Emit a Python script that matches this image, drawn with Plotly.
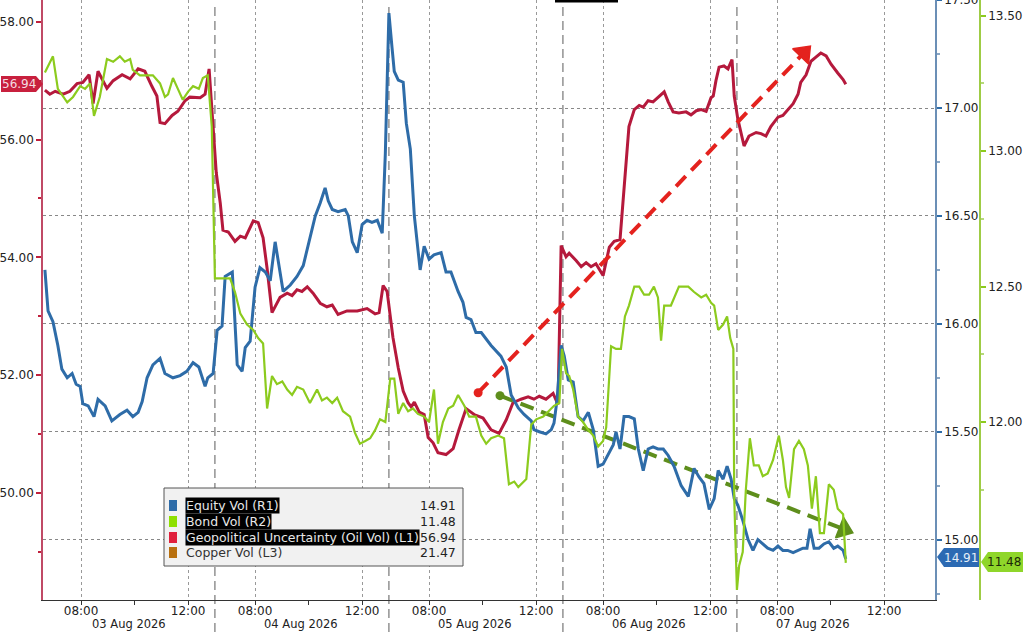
import plotly.graph_objects as go
from datetime import datetime, date

# ---------------- DATA ----------------
SERIES_NAMES = ["Equity Vol (R1)", "Bond Vol (R2)", "Geopolitical Uncertainty (Oil Vol) (L1)", "Copper Vol (L3)"]
LAST_VALUES = ["14.91", "11.48", "56.94", "21.47"]
DAY_LABELS = ["03 Aug 2026", "04 Aug 2026", "05 Aug 2026", "06 Aug 2026", "07 Aug 2026"]
FIRST_DAY = date(2026, 8, 3)
SESSION_OPEN = 6.5   # 06:30
SESSION_LEN = 6.5    # 06:30 - 13:00

geo_t = ["08-03 06:39","08-03 06:50","08-03 07:02","08-03 07:20","08-03 07:35","08-03 07:51","08-03 08:04","08-03 08:18",
         "08-03 08:27","08-03 08:38","08-03 08:58","08-03 09:12","08-03 09:32","08-03 09:50","08-03 10:08","08-03 10:23",
         "08-03 10:39","08-03 10:50","08-03 10:57","08-03 11:08","08-03 11:24","08-03 11:37","08-03 11:53","08-03 12:04",
         "08-03 12:27","08-03 12:38","08-03 12:47","08-03 12:56",
         "08-04 06:33","08-04 06:42","08-04 06:48","08-04 07:00","08-04 07:15","08-04 07:27","08-04 07:38","08-04 07:56",
         "08-04 08:07","08-04 08:18","08-04 08:27","08-04 08:38","08-04 08:56","08-04 09:12","08-04 09:23","08-04 09:34",
         "08-04 09:45","08-04 09:57","08-04 10:10","08-04 10:26","08-04 10:41","08-04 10:53","08-04 11:06","08-04 11:26",
         "08-04 11:49","08-04 12:11","08-04 12:29","08-04 12:38","08-04 12:47","08-04 12:56",
         "08-05 06:39","08-05 06:51","08-05 07:02","08-05 07:13","08-05 07:20","08-05 07:27","08-05 07:38","08-05 07:49",
         "08-05 07:58","08-05 08:09","08-05 08:20","08-05 08:38","08-05 08:54","08-05 09:07","08-05 09:23","08-05 09:41",
         "08-05 10:01","08-05 10:19","08-05 10:37","08-05 10:53","08-05 11:08","08-05 11:26","08-05 11:42","08-05 11:55",
         "08-05 12:07","08-05 12:22","08-05 12:38","08-05 12:49","08-05 12:56",
         "08-06 06:37","08-06 06:44","08-06 07:00","08-06 07:11","08-06 07:22","08-06 07:33","08-06 07:44","08-06 08:00",
         "08-06 08:14","08-06 08:25","08-06 08:38","08-06 08:47","08-06 08:58","08-06 09:10","08-06 09:21","08-06 09:30",
         "08-06 09:41","08-06 09:52","08-06 10:03","08-06 10:17","08-06 10:26","08-06 10:37","08-06 10:50","08-06 11:06",
         "08-06 11:17","08-06 11:29","08-06 11:40","08-06 11:51","08-06 12:02","08-06 12:07","08-06 12:13","08-06 12:20",
         "08-06 12:31","08-06 12:40","08-06 12:49","08-06 12:54",
         "08-07 06:32","08-07 06:46","08-07 06:57","08-07 07:13","08-07 07:24","08-07 07:35","08-07 07:46","08-07 08:02",
         "08-07 08:13","08-07 08:24","08-07 08:36","08-07 08:47","08-07 08:53","08-07 09:05","08-07 09:16","08-07 09:27",
         "08-07 09:38","08-07 09:50","08-07 10:01","08-07 10:16","08-07 10:28","08-07 10:34"]
geo_v = [56.84,56.77,56.82,56.77,56.82,56.95,56.97,57.10,56.61,57.16,56.87,57.00,57.10,57.03,57.20,57.16,
         56.90,56.74,56.29,56.27,56.41,56.48,56.66,56.72,56.71,56.77,57.20,56.29,
         55.44,54.92,54.46,54.43,54.27,54.36,54.33,54.62,54.59,54.33,53.81,53.06,53.32,53.39,53.35,53.45,
         53.42,53.50,53.39,53.22,53.16,53.19,53.03,53.09,53.09,53.13,53.04,53.06,53.52,53.42,
         52.64,52.12,51.73,51.53,51.46,51.54,51.37,51.33,50.94,50.85,50.68,50.65,50.75,51.07,51.43,51.33,
         51.27,51.07,51.01,51.24,51.53,51.59,51.63,51.59,51.64,51.59,51.69,51.50,54.20,
         54.01,54.07,53.94,53.84,53.91,53.84,53.89,53.69,54.17,54.27,54.30,55.24,56.22,56.51,56.58,56.55,
         56.66,56.64,56.71,56.81,56.64,56.47,56.45,56.47,56.42,56.49,56.51,56.48,56.71,56.74,57.00,57.23,
         57.25,57.20,57.36,56.74,
         56.35,55.89,56.06,56.12,56.10,56.06,56.22,56.38,56.41,56.51,56.61,56.77,56.97,57.10,57.33,57.40,
         57.47,57.42,57.28,57.13,57.02,56.94]

eq_t = ["08-03 06:39","08-03 06:46","08-03 06:57","08-03 07:08","08-03 07:17","08-03 07:29","08-03 07:40","08-03 07:49",
        "08-03 07:58","08-03 08:04","08-03 08:16","08-03 08:29","08-03 08:38","08-03 08:54","08-03 09:09","08-03 09:27",
        "08-03 09:43","08-03 09:56","08-03 10:08","08-03 10:17","08-03 10:28","08-03 10:41","08-03 10:57","08-03 11:08",
        "08-03 11:26","08-03 11:42","08-03 11:57","08-03 12:11","08-03 12:24","08-03 12:38","08-03 12:44","08-03 12:56",
        "08-04 06:35","08-04 06:46","08-04 06:53","08-04 07:09","08-04 07:20","08-04 07:31","08-04 07:38","08-04 07:49",
        "08-04 08:00","08-04 08:11","08-04 08:23","08-04 08:34","08-04 08:45","08-04 09:03","08-04 09:19","08-04 09:34",
        "08-04 09:48","08-04 09:59","08-04 10:15","08-04 10:26","08-04 10:37","08-04 10:44","08-04 10:53","08-04 11:06",
        "08-04 11:22","08-04 11:29","08-04 11:38","08-04 11:49","08-04 12:00","08-04 12:11","08-04 12:22","08-04 12:34",
        "08-04 12:45","08-04 12:52",
        "08-05 06:30","08-05 06:37","08-05 06:42","08-05 06:51","08-05 07:02","08-05 07:09","08-05 07:18","08-05 07:27",
        "08-05 07:35","08-05 07:40","08-05 07:49","08-05 08:00","08-05 08:11","08-05 08:27","08-05 08:38","08-05 08:49",
        "08-05 09:05","08-05 09:16","08-05 09:23","08-05 09:34","08-05 09:45","08-05 09:57","08-05 10:19","08-05 10:41",
        "08-05 10:53","08-05 11:04","08-05 11:20","08-05 11:33","08-05 11:49","08-05 11:55","08-05 12:07","08-05 12:22",
        "08-05 12:34","08-05 12:40","08-05 12:47","08-05 12:56",
        "08-06 06:33","08-06 06:42","08-06 06:53","08-06 07:04","08-06 07:15","08-06 07:27","08-06 07:38","08-06 07:49",
        "08-06 08:00","08-06 08:11","08-06 08:23","08-06 08:29","08-06 08:38","08-06 08:47","08-06 08:58","08-06 09:10",
        "08-06 09:19","08-06 09:30","08-06 09:41","08-06 09:52","08-06 10:03","08-06 10:15","08-06 10:26","08-06 10:39",
        "08-06 10:55","08-06 11:11","08-06 11:24","08-06 11:35","08-06 11:46","08-06 11:58","08-06 12:09","08-06 12:18",
        "08-06 12:29","08-06 12:38","08-06 12:47","08-06 12:54",
        "08-07 06:32","08-07 06:43","08-07 06:55","08-07 07:06","08-07 07:17","08-07 07:28","08-07 07:39","08-07 07:51",
        "08-07 08:02","08-07 08:13","08-07 08:24","08-07 08:36","08-07 08:47","08-07 08:58","08-07 09:07","08-07 09:14",
        "08-07 09:23","08-07 09:34","08-07 09:45","08-07 09:56","08-07 10:07","08-07 10:16","08-07 10:28","08-07 10:34"]
eq_v = [16.25,16.06,16.01,15.90,15.79,15.75,15.77,15.72,15.71,15.63,15.62,15.57,15.65,15.62,15.55,15.58,
        15.60,15.57,15.59,15.64,15.75,15.81,15.84,15.77,15.75,15.76,15.78,15.82,15.80,15.71,15.75,15.77,
        15.97,15.99,16.22,16.24,15.81,15.78,15.89,15.92,16.17,16.26,16.24,16.20,16.38,16.15,16.18,16.22,
        16.27,16.36,16.50,16.56,16.63,16.57,16.53,16.52,16.53,16.50,16.38,16.33,16.46,16.48,16.47,16.48,
        16.42,16.79,
        17.44,17.28,17.17,17.13,17.12,16.93,16.81,16.50,16.36,16.25,16.36,16.30,16.32,16.33,16.24,16.24,
        16.15,16.10,16.03,16.02,15.96,15.96,15.90,15.85,15.80,15.67,15.61,15.58,15.55,15.51,15.50,15.49,
        15.51,15.54,15.65,15.90,
        15.85,15.74,15.73,15.57,15.55,15.59,15.51,15.34,15.35,15.39,15.44,15.50,15.42,15.57,15.57,15.56,
        15.42,15.32,15.42,15.43,15.42,15.42,15.39,15.34,15.25,15.20,15.33,15.29,15.26,15.14,15.19,15.32,
        15.28,15.34,15.28,15.19,
        15.16,15.09,15.00,14.95,15.00,14.98,14.96,14.95,14.97,14.95,14.95,14.94,14.95,14.96,14.96,15.05,
        14.96,14.96,14.98,14.99,14.96,14.97,14.95,14.91]

bond_t = ["08-03 06:39","08-03 06:57","08-03 07:08","08-03 07:29","08-03 07:42","08-03 07:58","08-03 08:09","08-03 08:20",
          "08-03 08:29","08-03 08:42","08-03 08:58","08-03 09:12","08-03 09:27","08-03 09:38","08-03 09:50","08-03 09:56",
          "08-03 10:12","08-03 10:28","08-03 10:41","08-03 10:57","08-03 11:08","08-03 11:15","08-03 11:26","08-03 11:37",
          "08-03 11:48","08-03 12:00","08-03 12:11","08-03 12:24","08-03 12:33","08-03 12:44","08-03 12:53",
          "08-04 06:30","08-04 06:46","08-04 07:04","08-04 07:15","08-04 07:27","08-04 07:42","08-04 07:56","08-04 08:07",
          "08-04 08:18","08-04 08:27","08-04 08:38","08-04 08:49","08-04 09:01","08-04 09:12","08-04 09:23","08-04 09:34",
          "08-04 09:48","08-04 10:03","08-04 10:19","08-04 10:30","08-04 10:41","08-04 10:53","08-04 11:04","08-04 11:17",
          "08-04 11:33","08-04 11:44","08-04 11:55","08-04 12:07","08-04 12:18","08-04 12:29","08-04 12:40","08-04 12:52",
          "08-05 06:33","08-05 06:42","08-05 06:51","08-05 07:02","08-05 07:13","08-05 07:24","08-05 07:35","08-05 07:49",
          "08-05 08:00","08-05 08:11","08-05 08:20","08-05 08:31","08-05 08:43","08-05 08:54","08-05 09:05","08-05 09:19",
          "08-05 09:30","08-05 09:45","08-05 09:57","08-05 10:08","08-05 10:19","08-05 10:35","08-05 10:48","08-05 10:59",
          "08-05 11:11","08-05 11:20","08-05 11:38","08-05 11:49","08-05 12:00","08-05 12:16","08-05 12:29","08-05 12:40",
          "08-05 12:52","08-05 12:58",
          "08-06 06:37","08-06 06:44","08-06 06:53","08-06 07:04","08-06 07:15","08-06 07:27","08-06 07:38","08-06 07:49",
          "08-06 08:00","08-06 08:07","08-06 08:18","08-06 08:29","08-06 08:40","08-06 08:49","08-06 08:58","08-06 09:10",
          "08-06 09:21","08-06 09:32","08-06 09:43","08-06 09:54","08-06 10:03","08-06 10:10","08-06 10:17","08-06 10:32",
          "08-06 10:50","08-06 11:11","08-06 11:24","08-06 11:40","08-06 11:51","08-06 12:02","08-06 12:09","08-06 12:18",
          "08-06 12:29","08-06 12:38","08-06 12:45","08-06 12:52","08-06 12:54",
          "08-07 06:30","08-07 06:35","08-07 06:43","08-07 06:50","08-07 06:59","08-07 07:08","08-07 07:19","08-07 07:28",
          "08-07 07:39","08-07 07:51","08-07 08:04","08-07 08:13","08-07 08:20","08-07 08:27","08-07 08:38","08-07 08:49",
          "08-07 09:00","08-07 09:09","08-07 09:18","08-07 09:27","08-07 09:36","08-07 09:45","08-07 09:56","08-07 10:07",
          "08-07 10:16","08-07 10:28","08-07 10:34"]
bond_v = [13.29,13.35,13.23,13.18,13.20,13.24,13.23,13.25,13.13,13.20,13.34,13.33,13.35,13.33,13.34,13.30,
          13.28,13.28,13.28,13.25,13.20,13.21,13.27,13.23,13.19,13.22,13.24,13.23,13.27,13.28,13.09,
          12.53,12.53,12.53,12.48,12.40,12.36,12.34,12.31,12.29,12.05,12.17,12.14,12.15,12.12,12.10,12.13,
          12.12,12.07,12.12,12.08,12.09,12.07,12.09,12.04,12.02,11.96,11.92,11.93,11.94,11.97,12.01,12.00,
          12.16,12.16,12.03,12.07,12.04,12.05,12.03,12.02,12.00,12.12,11.92,12.00,12.05,12.06,12.10,12.06,
          12.02,12.02,11.95,11.92,11.94,11.95,11.94,11.77,11.78,11.76,11.79,11.99,12.01,12.02,12.04,12.06,
          12.07,12.27,
          12.18,12.17,12.12,12.02,12.00,11.97,11.95,11.91,11.93,11.98,12.28,12.27,12.27,12.39,12.43,12.50,
          12.50,12.47,12.47,12.50,12.46,12.30,12.43,12.43,12.50,12.50,12.48,12.46,12.47,12.44,12.43,12.34,
          12.36,12.39,12.31,12.27,11.72,
          11.38,11.47,11.52,11.75,11.94,11.84,11.84,11.80,11.81,11.86,11.95,11.86,11.76,11.72,11.90,11.93,
          11.90,11.84,11.68,11.80,11.59,11.59,11.77,11.75,11.68,11.66,11.48]

# dashed trend arrows (time, left-axis level)
red_arrow_t = ["08-05 09:50", "08-07 09:00"]
red_arrow_v = [51.70, 57.47]
green_arrow_t = ["08-05 10:39", "08-07 10:30"]
green_arrow_v = [51.65, 49.38]

# ---------------- helpers ----------------
def sx(t):
    d = datetime.strptime("2026-" + t, "%Y-%m-%d %H:%M")
    idx = (d.date() - FIRST_DAY).days
    return idx * SESSION_LEN + d.hour + d.minute / 60 - SESSION_OPEN

W, H = 1024, 632
ML, MR, MT, MB = 43, 44, 0, 32
PW = W - ML - MR
PH = H - MT - MB
PLOT_RIGHT = 935

def PX(p):
    return (p - ML) / PW

def PY(p):
    return (PH - p) / PH

RED = "#b5193c"
BLUE = "#2e6ca8"
GREEN = "#8ccb1e"
COPPER = "#b8700f"
FONT = "DejaVu Sans"

fig = go.Figure()

fig.add_trace(go.Scatter(x=[sx(t) for t in eq_t], y=eq_v, yaxis="y2", mode="lines",
                         line=dict(color=BLUE, width=3), name=SERIES_NAMES[0], showlegend=False))
fig.add_trace(go.Scatter(x=[sx(t) for t in bond_t], y=bond_v, yaxis="y3", mode="lines",
                         line=dict(color=GREEN, width=2.2), name=SERIES_NAMES[1], showlegend=False))
fig.add_trace(go.Scatter(x=[sx(t) for t in geo_t], y=geo_v, yaxis="y", mode="lines",
                         line=dict(color=RED, width=3), name=SERIES_NAMES[2], showlegend=False))

for at, av, col in [(red_arrow_t, red_arrow_v, "#e4221e"), (green_arrow_t, green_arrow_v, "#5e8e1c")]:
    ax = [sx(t) for t in at]
    fig.add_trace(go.Scatter(x=ax, y=av, mode="lines+markers",
                             line=dict(color=col, width=4, dash="14px,8px"),
                             marker=dict(symbol=["circle", "triangle-up"], size=[0, 19], angleref="previous",
                                         color=col, opacity=1, line=dict(width=1.5, color=col)),
                             showlegend=False, hoverinfo="skip"))
    fig.add_trace(go.Scatter(x=ax[:1], y=av[:1], mode="markers",
                             marker=dict(symbol="circle", size=9, color=col, line=dict(width=0)),
                             showlegend=False, hoverinfo="skip"))

# x ticks
n_days = len(DAY_LABELS)
tickvals, ticktext, minorvals = [], [], []
for d in range(n_days):
    tickvals += [d * SESSION_LEN + 8 - SESSION_OPEN, d * SESSION_LEN + 12 - SESSION_OPEN]
    ticktext += ["08:00", "12:00"]
    minorvals += [d * SESSION_LEN + 10 - SESSION_OPEN]

x_lo = (ML - 40.9) / 26.77
x_hi = (PLOT_RIGHT - 40.9) / 26.77

fig.update_layout(
    width=W, height=H, template="none",
    margin=dict(l=ML, r=MR, t=MT, b=MB, pad=0),
    paper_bgcolor="white", plot_bgcolor="white",
    font=dict(family=FONT, size=12, color="#222"),
    showlegend=False,
    xaxis=dict(domain=[0, (PLOT_RIGHT - ML) / PW], range=[x_lo, x_hi], showline=True, linecolor="#333",
               linewidth=1, tickmode="array", tickvals=tickvals, ticktext=ticktext, ticks="outside",
               ticklen=4, tickcolor="#333", showgrid=True, gridcolor="#999", griddash="dot", gridwidth=1,
               zeroline=False, tickfont=dict(size=12, color="#222"), automargin=False,
               ticklabelstandoff=-4,
               minor=dict(tickmode="array", tickvals=minorvals, ticks="outside", ticklen=4,
                          tickcolor="#333", showgrid=False)),
    yaxis=dict(range=[48.18, 58.37], side="left", showline=True, linecolor="#c04a66", linewidth=1.5,
               tickvals=[50, 52, 54, 56, 58], tickformat=".2f", ticks="outside", ticklen=5, tickwidth=2,
               tickcolor="#c0203c", showgrid=False, zeroline=False, automargin=False,
               tickfont=dict(size=12, color="#222"),
               minor=dict(tickvals=[49, 51, 53, 55, 57], ticks="outside", ticklen=3, tickcolor="#c0203c",
                          showgrid=False)),
    yaxis2=dict(range=[14.72, 17.501], overlaying="y", side="right", anchor="x", showline=True,
                linecolor="#6b8fb6", linewidth=1.5, tickvals=[15.0, 15.5, 16.0, 16.5, 17.0, 17.5],
                tickformat=".2f", ticks="outside", ticklen=5, tickwidth=2, tickcolor="#2e6ca8",
                showgrid=True, gridcolor="#888", griddash="dot", gridwidth=1, zeroline=False,
                automargin=False, tickfont=dict(size=12, color="#222"), ticklabeloverflow="allow",
                minor=dict(tickvals=[14.75, 15.25, 15.75, 16.25, 16.75, 17.25], ticks="outside",
                           ticklen=3, tickcolor="#8aa6c4", showgrid=False)),
    yaxis3=dict(range=[11.343, 13.558], overlaying="y", side="right", anchor="free", position=1.0,
                showline=True, linecolor="#9fcc45", linewidth=1.5, tickvals=[12.0, 12.5, 13.0, 13.5],
                tickformat=".2f", ticks="outside", ticklen=5, tickwidth=2, tickcolor="#8ccb1e",
                showgrid=False, zeroline=False, automargin=False, tickfont=dict(size=12, color="#222"),
                minor=dict(tickvals=[11.75, 12.25, 12.75, 13.25], ticks="outside", ticklen=3,
                           tickcolor="#b5d87a", showgrid=False)),
)

shapes = []
# session separators
for d in range(1, n_days):
    xs = d * SESSION_LEN
    shapes.append(dict(type="line", xref="x", yref="paper", x0=xs, x1=xs, y0=PY(H), y1=PY(5),
                       line=dict(color="#777", width=1.2, dash="9px,5px"), layer="below"))
# small black bar at top
shapes.append(dict(type="rect", xref="paper", yref="paper", x0=PX(555), x1=PX(618), y0=PY(2.5), y1=PY(0),
                   fillcolor="black", line=dict(width=0)))

# legend box
shapes.append(dict(type="rect", xref="paper", yref="paper", x0=PX(164), x1=PX(463), y0=PY(566), y1=PY(488),
                   fillcolor="#f1f1f1", line=dict(color="#555", width=1), layer="above"))
legend_colors = [BLUE, "#8ee000", "#e0203c", COPPER]
row_y = [505, 521, 537, 552]
annotations = []
for i, name in enumerate(SERIES_NAMES):
    yc = row_y[i]
    shapes.append(dict(type="rect", xref="paper", yref="paper", x0=PX(169), x1=PX(177), y0=PY(yc + 6),
                       y1=PY(yc - 5), fillcolor=legend_colors[i], line=dict(width=0), layer="above"))
    highlighted = i < 3
    annotations.append(dict(xref="paper", yref="paper", x=PX(185), y=PY(yc), xanchor="left", yanchor="middle",
                            text=name, showarrow=False,
                            font=dict(size=12.5, color="#e8e8e8" if highlighted else "#333", family=FONT),
                            bgcolor="black" if highlighted else "rgba(0,0,0,0)", borderpad=0))
    annotations.append(dict(xref="paper", yref="paper", x=PX(458), y=PY(yc), xanchor="right", yanchor="middle",
                            text=LAST_VALUES[i], showarrow=False, font=dict(size=12.5, color="#222", family=FONT)))

# value tags
def poly(pts):
    s = "M " + " L ".join(f"{PX(a):.5f},{PY(b):.5f}" for a, b in pts) + " Z"
    return s

shapes.append(dict(type="path", xref="paper", yref="paper", layer="above",
                   path=poly([(1, 76), (36, 76), (43, 84), (36, 92), (1, 92)]),
                   fillcolor="#c8203e", line=dict(width=0)))
shapes.append(dict(type="path", xref="paper", yref="paper", layer="above",
                   path=poly([(937, 557), (944, 548), (979, 548), (979, 567), (944, 567)]),
                   fillcolor="#2c6ab3", line=dict(width=0)))
shapes.append(dict(type="path", xref="paper", yref="paper", layer="above",
                   path=poly([(981, 562), (988, 552), (1023, 552), (1023, 572), (988, 572)]),
                   fillcolor="#8fd62a", line=dict(width=0)))
annotations.append(dict(xref="paper", yref="paper", x=PX(19), y=PY(84), text=LAST_VALUES[2], showarrow=False,
                        font=dict(size=12, color="#f4dde2", family=FONT), xanchor="center", yanchor="middle"))
annotations.append(dict(xref="paper", yref="paper", x=PX(961), y=PY(557.5), text=LAST_VALUES[0], showarrow=False,
                        font=dict(size=12, color="#e6eef8", family=FONT), xanchor="center", yanchor="middle"))
annotations.append(dict(xref="paper", yref="paper", x=PX(1004), y=PY(562), text=LAST_VALUES[1], showarrow=False,
                        font=dict(size=12, color="#1b2a08", family=FONT), xanchor="center", yanchor="middle"))

# day labels
day_centers = [129, 301, 475, 649, 813]
for lbl, c in zip(DAY_LABELS, day_centers):
    annotations.append(dict(xref="paper", yref="paper", x=PX(c), y=PY(624), text=lbl, showarrow=False,
                            font=dict(size=11.5, color="#222", family=FONT), xanchor="center", yanchor="middle"))

fig.update_layout(shapes=shapes, annotations=annotations)
fig.write_html("out.html", config={"displayModeBar": False},
               post_script="document.body.style.margin='0px';document.body.style.overflow='hidden';")
